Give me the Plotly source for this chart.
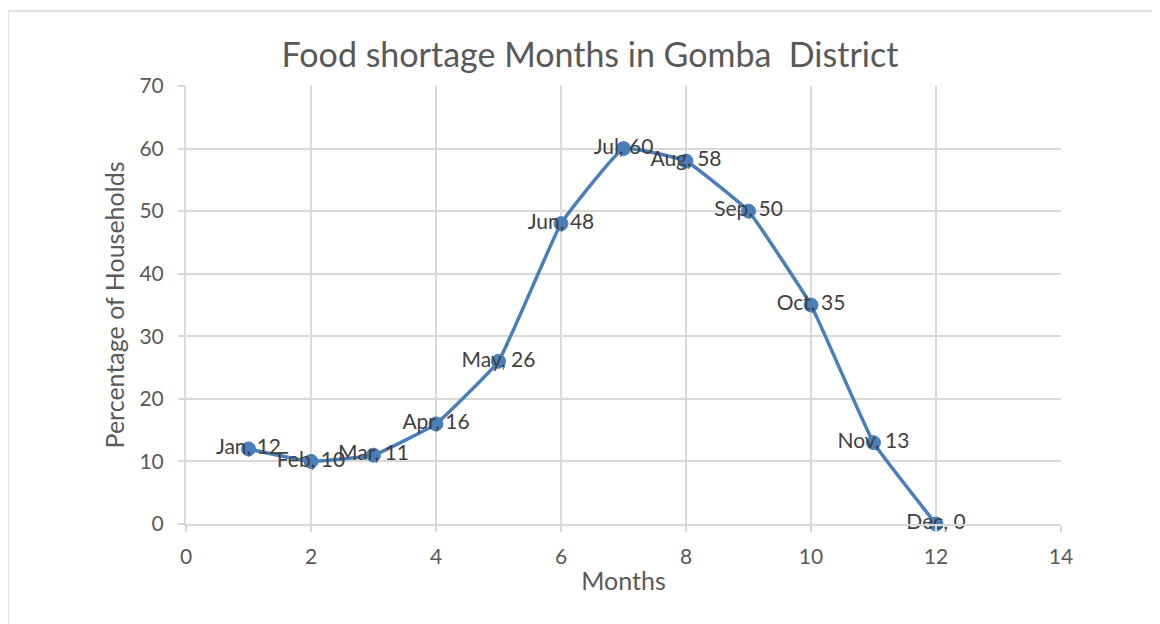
import plotly.graph_objects as go

months = ["Jan", "Feb", "Mar", "Apr", "May", "Jun", "Jul", "Aug", "Sep", "Oct", "Nov", "Dec"]
month_num = [1, 2, 3, 4, 5, 6, 7, 8, 9, 10, 11, 12]
pct_households = [12, 10, 11, 16, 26, 48, 60, 58, 50, 35, 13, 0]

labels = [f"{m}, {v}" for m, v in zip(months, pct_households)]

FONT = "Lato, 'Open Sans', sans-serif"
GREY = "#595959"
GRID = "#d9d9d9"
BLUE = "#4a7ebb"

W, H = 1144, 620  # page body has an 8px margin

fig = go.Figure()
fig.add_trace(go.Scatter(
    x=month_num, y=pct_households,
    mode="lines+markers+text",
    line=dict(color=BLUE, width=3.5, shape="spline", smoothing=0.3),
    marker=dict(color=BLUE, size=14, line=dict(color=BLUE, width=1)),
    text=labels, textposition="middle center",
    textfont=dict(family=FONT, size=21, color="#404040"),
    cliponaxis=False, showlegend=False,
))

fig.update_layout(
    width=W, height=H,
    margin=dict(l=178, r=W - 1053, t=78, b=H - 516),
    paper_bgcolor="white", plot_bgcolor="white",
    font=dict(family=FONT, color=GREY),
    title=dict(text="Food shortage Months in Gomba  District", x=(590 - 8) / W, xanchor="center",
               y=1 - (55 - 8) / H, yanchor="middle", font=dict(size=34, color=GREY, family=FONT)),
    xaxis=dict(range=[0, 14], dtick=2, tick0=0, showgrid=True, gridcolor=GRID, gridwidth=2,
               zeroline=False, showline=True, linecolor=GRID, linewidth=2,
               ticks="outside", ticklen=6, tickcolor=GRID, tickwidth=2, ticklabelstandoff=7,
               tickfont=dict(size=21, color=GREY), mirror=False,
               title=dict(text="Months", font=dict(size=25, color=GREY), standoff=5)),
    yaxis=dict(range=[0, 70], dtick=10, tick0=0, showgrid=True, gridcolor=GRID, gridwidth=2,
               zeroline=False, showline=True, linecolor=GRID, linewidth=2,
               ticks="outside", ticklen=6, tickcolor=GRID, tickwidth=2, ticklabelstandoff=10,
               tickfont=dict(size=21, color=GREY),
               title=dict(text="Percentage of Households", font=dict(size=25, color=GREY), standoff=8)),
    shapes=[dict(type="rect", xref="paper", yref="paper",
                 x0=(8 - 186) / 875, x1=(1158 - 186) / 875,
                 y0=-0.5, y1=1 + (86 - 11) / 438,
                 line=dict(color=GRID, width=1.5), fillcolor="rgba(0,0,0,0)", layer="below")],
)

fig.write_html("out.html")
